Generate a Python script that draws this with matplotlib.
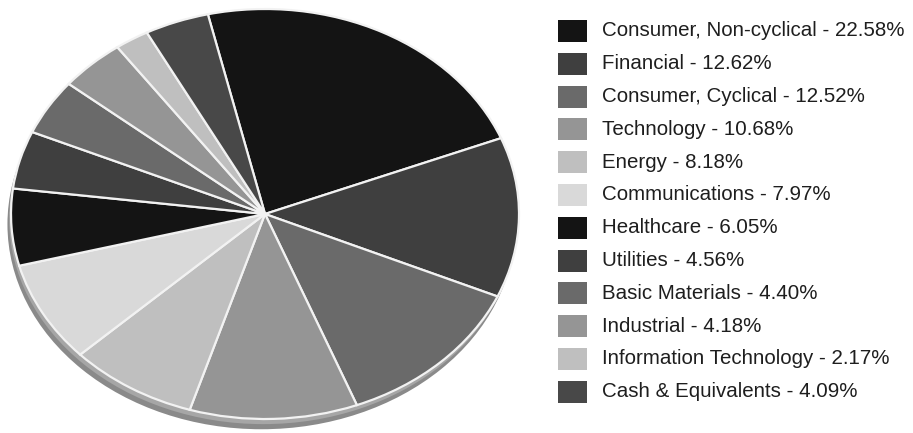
import matplotlib.pyplot as plt
from matplotlib.patches import Ellipse, Rectangle

sectors = ["Consumer, Non-cyclical", "Financial", "Consumer, Cyclical", "Technology",
           "Energy", "Communications", "Healthcare", "Utilities", "Basic Materials",
           "Industrial", "Information Technology", "Cash & Equivalents"]
weights = [22.58, 12.62, 12.52, 10.68, 8.18, 7.97, 6.05, 4.56, 4.40, 4.18, 2.17, 4.09]
shades = ["#141414", "#3f3f3f", "#6a6a6a", "#959595", "#bfbfbf", "#d9d9d9",
          "#141414", "#3f3f3f", "#6a6a6a", "#959595", "#bfbfbf", "#484848"]

W, H = 913, 433
fig = plt.figure(figsize=(W / 100, H / 100), dpi=100)

# pie drawn in a stretched axes so the disc becomes an ellipse (tilted look)
cx, cy, rx, ry = 265, 214, 254, 205
pad = 14
ax = fig.add_axes([(cx - rx - pad) / W, (H - cy - ry - pad) / H,
                   (2 * rx + 2 * pad) / W, (2 * ry + 2 * pad) / H])
kx = 1 + pad / rx
ky = 1 + pad / ry

# thickness of the disc
ax.add_patch(Ellipse((-0.014, -0.05), 2.0, 2.0, facecolor="#8a8a8a",
                     edgecolor="none", zorder=0))
ax.add_patch(Ellipse((-0.007, -0.025), 2.0, 2.0, facecolor="#a6a6a6",
                     edgecolor="none", zorder=0.5))

wedges, _ = ax.pie(weights, colors=shades, startangle=103, counterclock=False,
                   radius=1.0, frame=True,
                   wedgeprops=dict(edgecolor="#f2f2f2", linewidth=1.6))
ax.set_xlim(-kx, kx)
ax.set_ylim(-ky, ky)
ax.set_aspect("auto")
ax.axis("off")

# legend
lg = fig.add_axes([0, 0, 1, 1])
lg.set_xlim(0, W)
lg.set_ylim(H, 0)
lg.axis("off")
for i, (name, w, c) in enumerate(zip(sectors, weights, shades)):
    yc = 31 + i * 32.8
    lg.add_patch(Rectangle((558, yc - 11), 29, 22, facecolor=c, edgecolor="none"))
    lg.text(602, yc, f"{name} - {w:.2f}%", fontsize=14.8, family="Liberation Sans",
            color="#1e1e1e", va="center", ha="left")

fig.savefig("out.png", dpi=100)
